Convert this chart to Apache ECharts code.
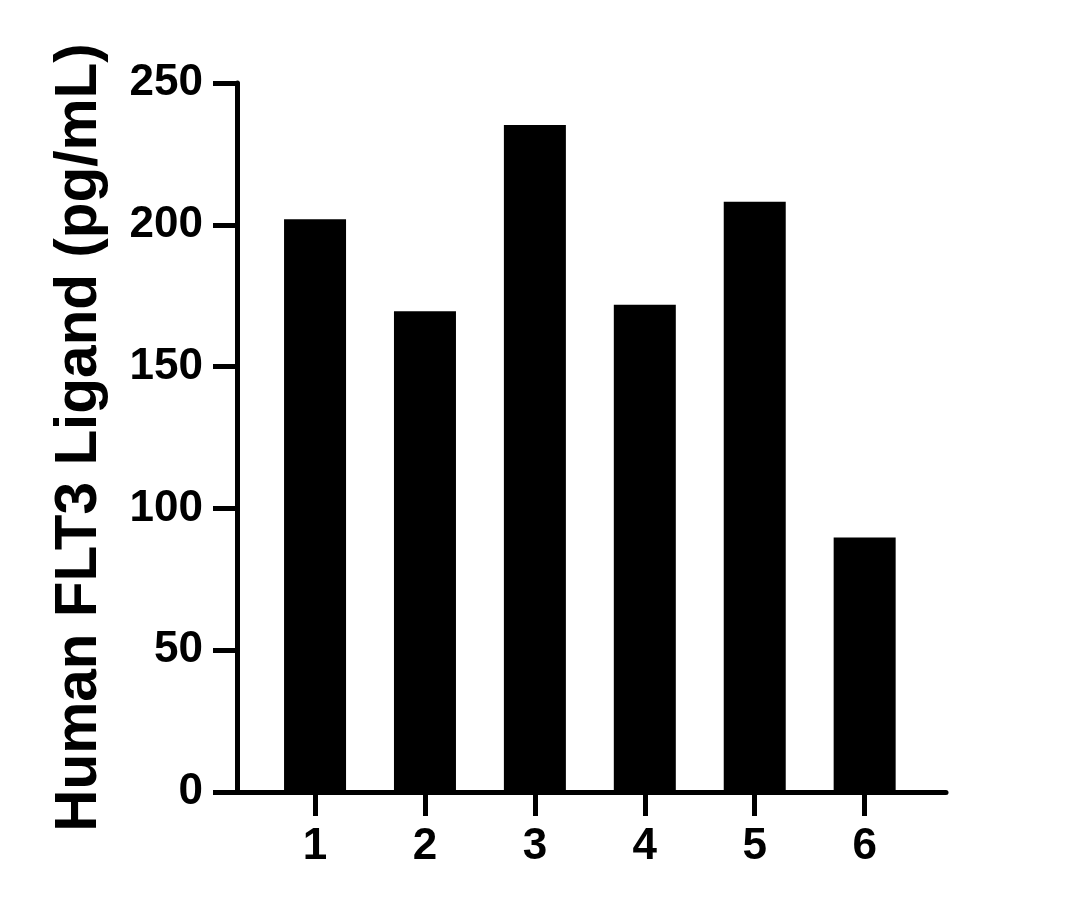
<!DOCTYPE html>
<html>
<head>
<meta charset="utf-8">
<script src="https://cdn.jsdelivr.net/npm/echarts@6/dist/echarts.min.js"></script>
<style>
  html, body { margin: 0; padding: 0; background: #ffffff; }
  #chart { width: 1078px; height: 909px; }
</style>
</head>
<body>
<div id="chart"></div>
<script>
const categories = ['1', '2', '3', '4', '5', '6'];
const positions = [1, 2, 3, 4, 5, 6];
const values = [202, 169.5, 235.2, 171.8, 208.1, 89.7];
const yTicks = [0, 50, 100, 150, 200, 250];
const yTitle = 'Human FLT3 Ligand (pg/mL)';

const FONT = '"Liberation Sans", Arial, Helvetica, sans-serif';
const chart = echarts.init(document.getElementById('chart'), null, { renderer: 'canvas' });

const option = {
  backgroundColor: '#ffffff',
  animation: false,
  grid: { left: 237, right: 132, top: 83, bottom: 117, containLabel: false },
  xAxis: {
    type: 'value',
    min: 0.29,
    max: 6.74,
    splitLine: { show: false },
    axisLine: { show: true, onZero: false, lineStyle: { color: '#000', width: 5 } },
    axisTick: { show: true, customValues: positions, length: 24, lineStyle: { color: '#000', width: 5 } },
    axisLabel: {
      customValues: positions,
      formatter: v => categories[positions.indexOf(v)],
      color: '#000', fontFamily: FONT, fontWeight: 'bold', fontSize: 44, margin: 33
    }
  },
  yAxis: {
    type: 'value',
    min: 0,
    max: 250,
    interval: 50,
    splitLine: { show: false },
    axisLine: { show: true, onZero: false, lineStyle: { color: '#000', width: 5 } },
    axisTick: { show: true, length: 24, lineStyle: { color: '#000', width: 5 } },
    axisLabel: {
      formatter: v => (yTicks.indexOf(v) >= 0 ? String(v) : ''),
      color: '#000', fontFamily: FONT, fontWeight: 'bold', fontSize: 44, margin: 34
    },
    name: yTitle,
    nameLocation: 'middle',
    nameRotate: 90,
    nameGap: 128,
    nameTextStyle: { color: '#000', fontFamily: FONT, fontWeight: 'bold', fontSize: 58.5 }
  },
  series: [{
    type: 'bar',
    barWidth: 62,
    itemStyle: { color: '#000' },
    data: positions.map((p, i) => [p, values[i]])
  }]
};
chart.setOption(option);
</script>
</body>
</html>
